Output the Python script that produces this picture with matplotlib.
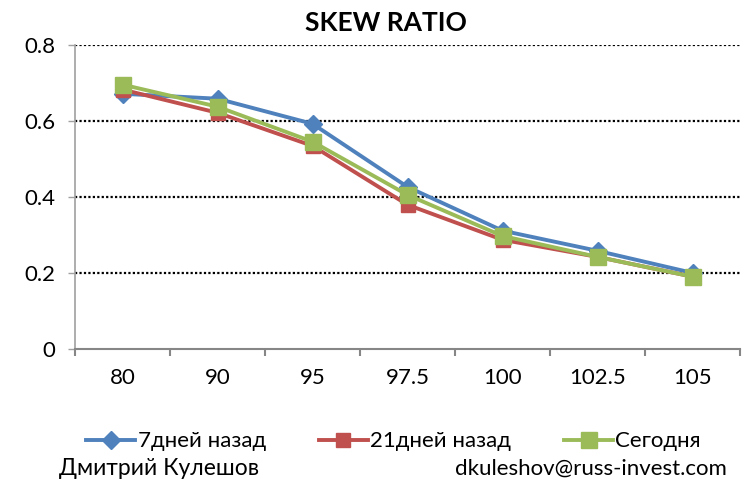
import matplotlib
matplotlib.use("Agg")
import matplotlib.pyplot as plt
import numpy as np

plt.rcParams["font.family"] = ["Lato", "Open Sans", "DejaVu Sans"]

categories = ["80", "90", "95", "97.5", "100", "102.5", "105"]
days7 = [0.671, 0.658, 0.592, 0.426, 0.311, 0.258, 0.200]
days21 = [0.682, 0.621, 0.534, 0.379, 0.287, 0.242, 0.190]
today = [0.695, 0.637, 0.545, 0.405, 0.297, 0.242, 0.190]

blue = "#4F81BD"
red = "#C0504D"
green = "#9BBB59"

fig = plt.figure(figsize=(7.43, 4.86), dpi=100)
ax = fig.add_axes([0.101, 0.282, 0.895, 0.626])

x = np.arange(len(categories))
ax.plot(x, days7, color=blue, lw=2.8, marker="D", ms=9, label="7дней назад", zorder=3)
ax.plot(x, days21, color=red, lw=2.8, marker="s", ms=10, label="21дней назад", zorder=4)
ax.plot(x, today, color=green, lw=2.8, marker="s", ms=12, label="Сегодня", zorder=5)

ax.set_xlim(-0.5, len(categories) - 0.5)
ax.set_ylim(0, 0.8)
ax.set_yticks([0, 0.2, 0.4, 0.6, 0.8])
ax.set_yticklabels(["0", "0.2", "0.4", "0.6", "0.8"], fontsize=16)
ax.set_xticks(np.arange(-0.5, len(categories), 1.0))
ax.set_xticklabels([])
ax.set_xticks(x, minor=True)
ax.set_xticklabels(categories, minor=True, fontsize=16)
ax.tick_params(axis="x", which="minor", length=0, pad=14)
ax.tick_params(axis="x", which="major", length=5, width=1.5, color="#868686")
ax.tick_params(axis="y", length=5, width=1, color="#a0a0a0", pad=9)

for v in [0.2, 0.4, 0.6, 0.8]:
    ax.axhline(v, color="black", lw=1.6, ls=(0, (1, 1)), zorder=1)

for s in ["top", "right"]:
    ax.spines[s].set_visible(False)
ax.spines["left"].set_color("#a0a0a0")
ax.spines["left"].set_linestyle((0, (1, 1)))
ax.spines["left"].set_linewidth(1.2)
ax.spines["bottom"].set_color("#868686")
ax.spines["bottom"].set_linewidth(1.5)

fig.text(0.52, 0.953, "SKEW RATIO", fontsize=19, fontweight="bold", ha="center", va="center")

fig.legend(loc="center", bbox_to_anchor=(0.53, 0.092), ncol=3, frameon=False,
           fontsize=16, handlelength=2.2, columnspacing=2.4, handletextpad=0.1)
fig.text(0.08, 0.035, "Дмитрий Кулешов", fontsize=16.5, va="center")
fig.text(0.978, 0.035, "dkuleshov@russ-invest.com", fontsize=16, va="center", ha="right")

fig.savefig("out.png", dpi=100)
